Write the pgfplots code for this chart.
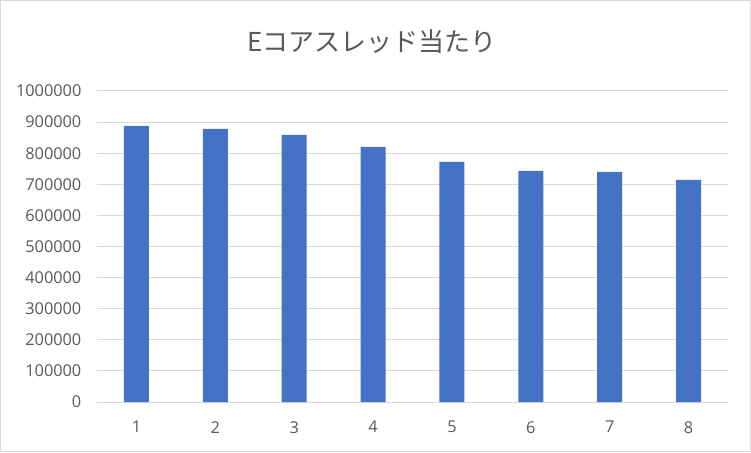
\documentclass[border=0pt]{standalone}
\usepackage{fontspec}
\setmainfont{Open Sans}
\newfontfamily\cjk{Noto Sans CJK JP}
\usepackage{pgfplots}
\pgfplotsset{compat=1.18}
\definecolor{barblue}{HTML}{4472C4}
\definecolor{txt}{HTML}{595959}
\definecolor{gridc}{HTML}{D9D9D9}
\begin{document}
\begin{tikzpicture}[x=1pt,y=1pt]
\draw[gridc, line width=1.2pt] (0.6,0.6) rectangle (750.4,451.4);
\node[txt, font=\cjk\fontsize{26}{30}\selectfont] at (372,410) {Eコアスレッド当たり};
\begin{axis}[
  at={(97pt,50pt)}, anchor=south west,
  scale only axis, width=631pt, height=311pt,
  ybar, bar width=25pt,
  xmin=0.5, xmax=8.5, ymin=0, ymax=1000000,
  xtick={1,2,3,4,5,6,7,8},
  ytick={0,100000,200000,300000,400000,500000,600000,700000,800000,900000,1000000},
  scaled y ticks=false,
  /pgf/number format/.cd, fixed, 1000 sep={}, assume math mode=true,
  /pgfplots/.cd,
  axis line style={draw=none},
  major tick length=0pt,
  ymajorgrids, grid style={gridc, line width=1pt},
  ticklabel style={txt, font=\fontsize{16.3}{19}\selectfont},
  yticklabel style={anchor=east, inner sep=0pt, xshift=-15.5pt},
  xticklabel style={anchor=north, inner sep=0pt, yshift=-19pt},
  clip=false,
]
\addplot[fill=barblue, draw=none] coordinates {
(1,888000) (2,878000) (3,859000) (4,820000) (5,772000) (6,743000) (7,740000) (8,714000)
};
\end{axis}
\end{tikzpicture}
\end{document}
